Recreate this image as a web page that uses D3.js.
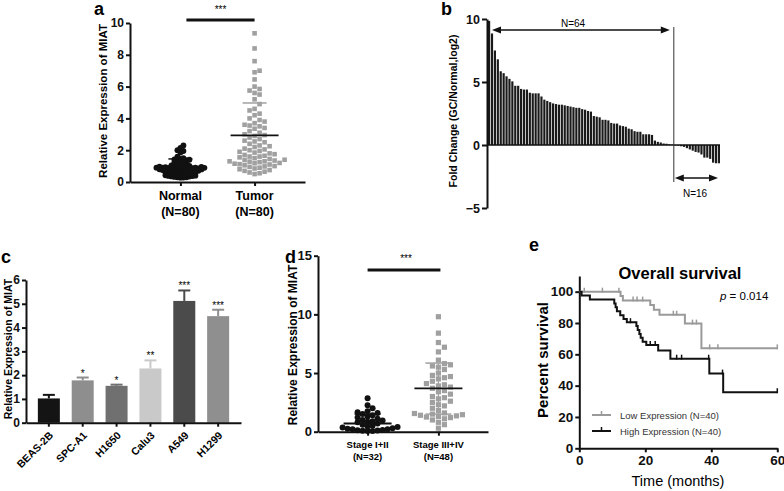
<!DOCTYPE html>
<html>
<head>
<meta charset="utf-8">
<script src="https://cdn.jsdelivr.net/npm/d3@7"></script>
<style>
  body { margin: 0; background: #fff; }
  svg { font-family: "Liberation Sans", Arial, sans-serif; }
</style>
</head>
<body>
<svg id="fig" width="784" height="491"></svg>
<script>
// ---- panel a: MIAT in tissues ----
const groupsA = ["Normal", "Tumor"];
const groupNA = ["(N=80)", "(N=80)"];
const normalVals = [2.3, 2.15, 2.0, 1.95, 1.85, 1.6, 1.5, 1.45, 1.42, 1.4,
  1.38, 1.35, 1.3, 1.28, 1.25, 1.2, 1.15, 1.12, 1.1, 1.05,
  1.02, 1.0, 0.98, 0.97, 0.96, 0.95, 0.94, 0.93, 0.92, 0.91,
  0.9, 0.9, 0.89, 0.88, 0.87, 0.86, 0.85, 0.84, 0.83, 0.82,
  0.8, 0.8, 0.79, 0.78, 0.77, 0.76, 0.75, 0.74, 0.72, 0.71,
  0.7, 0.69, 0.68, 0.66, 0.65, 0.64, 0.62, 0.6, 0.6, 0.58,
  0.56, 0.55, 0.53, 0.52, 0.5, 0.48, 0.47, 0.45, 0.44, 0.42,
  0.4, 0.38, 0.37, 0.35, 0.34, 0.32, 0.3, 0.3, 0.28, 0.27];
const tumorVals = [9.35, 8.4, 7.6, 7.0, 6.9, 6.45, 6.0, 5.85, 5.75, 5.6,
  5.5, 5.2, 4.9, 4.6, 4.5, 4.3, 4.2, 4.0, 3.9, 3.8,
  3.7, 3.6, 3.55, 3.5, 3.4, 3.35, 3.2, 3.1, 3.0, 2.95,
  2.9, 2.8, 2.7, 2.6, 2.55, 2.5, 2.4, 2.3, 2.25, 2.2,
  2.1, 2.05, 2.0, 1.95, 1.9, 1.85, 1.8, 1.75, 1.7, 1.65,
  1.6, 1.55, 1.5, 1.45, 1.4, 1.38, 1.35, 1.3, 1.28, 1.25,
  1.2, 1.18, 1.15, 1.12, 1.1, 1.05, 1.0, 0.98, 0.95, 0.9,
  0.85, 0.8, 0.75, 0.7, 0.65, 0.6, 0.55, 0.5, 1.3, 1.6];
const meanA = [0.95, 2.93];
const sdTopA = [1.45, 4.97];

// ---- panel b: fold change per patient ----
const foldUp = [9.85, 8.85, 7.5, 6.8, 5.85, 5.7, 5.45, 5.25, 5.05, 4.7,
  4.7, 4.45, 4.4, 4.4, 4.15, 4.1, 4.1, 4.1, 3.85, 3.6,
  3.5, 3.4, 3.3, 3.25, 3.2, 3.2, 3.15, 3.1, 3.05, 3.0,
  2.95, 2.95, 2.85, 2.8, 2.7, 2.65, 2.3, 2.25, 2.2, 2.0,
  2.0, 1.95, 1.75, 1.7, 1.7, 1.55, 1.5, 1.45, 1.3, 1.25,
  1.1, 1.05, 1.05, 0.85, 0.85, 0.85, 0.8, 0.35, 0.25, 0.2,
  0.12, 0.1, 0.05, 0.03];
const foldDown = [-0.03, -0.05, -0.1, -0.15, -0.25, -0.35, -0.45, -0.55,
  -0.6, -0.75, -1.0, -1.0, -1.1, -1.4, -1.45, -1.45];

// ---- panel c: cell lines ----
const cellLines = ["BEAS-2B", "SPC-A1", "H1650", "Calu3", "A549", "H1299"];
const cellMeans = [1.02, 1.78, 1.55, 2.28, 5.12, 4.48];
const cellErrTop = [1.17, 1.9, 1.6, 2.62, 5.56, 4.75];
const cellStars = ["", "*", "*", "**", "***", "***"];
const cellColors = ["#141414", "#8e8e8e", "#707070", "#c9c9c9", "#4b4b4b", "#8f8f8f"];

// ---- panel d: stages ----
const stages = ["Stage I+II", "Stage III+IV"];
const stageN = ["(N=32)", "(N=48)"];
const earlyVals = [2.85, 2.25, 2.0, 1.75, 1.65, 1.6, 1.5, 1.4, 1.3, 1.2,
  1.1, 1.0, 0.95, 0.9, 0.85, 0.8, 0.7, 0.6, 0.5, 0.45,
  0.4, 0.35, 0.3, 0.25, 0.2, 0.2, 0.15, 0.12, 0.1, 0.08, 0.05, 0.05];
const lateVals = [9.8, 8.4, 7.6, 7.2, 6.8, 6.1, 5.8, 5.7, 5.6, 5.5,
  5.3, 5.0, 4.8, 4.7, 4.6, 4.5, 4.3, 4.1, 4.0, 3.9,
  3.8, 3.7, 3.5, 3.4, 3.2, 3.0, 2.9, 2.8, 2.6, 2.5,
  2.3, 2.2, 2.0, 1.8, 1.6, 1.55, 1.5, 1.45, 1.4, 1.35,
  1.3, 1.25, 1.2, 1.1, 1.0, 0.8, 0.6, 0.3];
const meanD = [0.7, 3.7];
const sdTopD = [1.5, 5.85];
const sdLowD = [null, 1.5];

// ---- panel e: Kaplan-Meier ----
const lowTimes = [0, 12.5, 13.2, 21.5, 22.6, 24.3, 32, 37];
const lowSurv = [100, 97.3, 94.3, 91.5, 88.5, 85.3, 79.6, 63.8];
const lowCensor = [1.5, 7, 12, 16.3, 17.5, 19.2, 28.5, 29.5, 34.3, 35.5, 39.5, 42, 60];
const highTimes = [0, 0.7, 3.2, 10.6, 11, 11.4, 12.4, 13.4, 14.4, 17.3, 17.7, 18.2, 18.6, 19.2, 20.3, 23.9, 27.6, 39.4, 43.6];
const highSurv = [100, 97.5, 95, 92.5, 90, 87.5, 85, 82.5, 80.5, 78, 75.5, 73, 70.5, 68, 66, 62.5, 57.2, 47.7, 35.8];
const highCensor = [15.5, 21.5, 23, 29.5, 31, 39.2, 43.4, 60];

const BLACK = "#111", GRAY = "#a0a0a0";
const svg = d3.select("#fig");

function styleAxis(g, size) {
  g.selectAll("path, line").attr("stroke", BLACK).attr("stroke-width", 2);
  g.selectAll("text").attr("fill", BLACK)
    .style("font-size", size + "px").style("font-weight", "bold");
}

// simple beeswarm: push each point sideways until it does not collide
function swarm(values, y, cx, d) {
  const pts = values.map(v => ({ v, y: y(v) })).sort((a, b) => a.v - b.v);
  const placed = [];
  pts.forEach(p => {
    for (let k = 0; k < 400; k++) {
      const dx = (k % 2 ? 1 : -1) * Math.ceil(k / 2);
      const x = cx + dx;
      if (!placed.some(q => Math.abs(q.x - x) < d && Math.abs(q.y - p.y) < d)) {
        p.x = x; placed.push(p); break;
      }
    }
  });
  return placed;
}

function panelLabel(t, x, y) {
  svg.append("text").attr("x", x).attr("y", y)
    .style("font-size", "18px").style("font-weight", "bold").text(t);
}

function yLabel(t, x, y, size) {
  svg.append("text")
    .attr("transform", `translate(${x},${y}) rotate(-90)`)
    .attr("text-anchor", "middle")
    .style("font-size", size + "px").style("font-weight", "bold")
    .text(t);
}

// ================= panel a =================
const ya = d3.scaleLinear().domain([0, 10]).range([182, 23]);
const xa = d3.scalePoint().domain(groupsA).range([130, 305]).padding(0.68);

svg.append("g").attr("transform", "translate(130,0)")
  .call(d3.axisLeft(ya).ticks(5).tickSize(4).tickSizeOuter(0).tickPadding(2))
  .call(g => styleAxis(g, 12));
svg.append("g").attr("transform", "translate(0,182)")
  .call(d3.axisBottom(xa).tickSize(4).tickSizeOuter(0).tickFormat(""))
  .call(g => styleAxis(g, 12));

groupsA.forEach((gname, i) => {
  svg.append("text").attr("x", xa(gname)).attr("y", 200).attr("text-anchor", "middle")
    .style("font-size", "12.5px").style("font-weight", "bold").text(gname);
  svg.append("text").attr("x", xa(gname)).attr("y", 216).attr("text-anchor", "middle")
    .style("font-size", "12.5px").style("font-weight", "bold").text(groupNA[i]);
});

svg.selectAll(".ptN").data(swarm(normalVals, ya, xa("Normal"), 2.4)).enter()
  .append("circle").attr("cx", d => d.x).attr("cy", d => d.y).attr("r", 2.9).attr("fill", BLACK);
svg.selectAll(".ptT").data(swarm(tumorVals, ya, xa("Tumor"), 5)).enter()
  .append("rect").attr("x", d => d.x - 2.3).attr("y", d => d.y - 2.3)
  .attr("width", 4.6).attr("height", 4.6).attr("fill", GRAY);

groupsA.forEach((gname, i) => {
  const cx = xa(gname);
  svg.append("line").attr("x1", cx - 12).attr("x2", cx + 12)
    .attr("y1", ya(sdTopA[i])).attr("y2", ya(sdTopA[i]))
    .attr("stroke", i ? GRAY : BLACK).attr("stroke-width", 1.5);
  svg.append("line").attr("x1", cx - 24).attr("x2", cx + 24)
    .attr("y1", ya(meanA[i])).attr("y2", ya(meanA[i]))
    .attr("stroke", BLACK).attr("stroke-width", 1.8);
});

svg.append("line").attr("x1", xa("Normal") + 6).attr("x2", xa("Tumor"))
  .attr("y1", 20).attr("y2", 20).attr("stroke", BLACK).attr("stroke-width", 3);
svg.append("text").attr("x", (xa("Normal") + xa("Tumor")) / 2 + 3).attr("y", 13)
  .attr("text-anchor", "middle").style("font-size", "10px").text("***");

yLabel("Relative Expression of MIAT", 107, 101, 11.5);
panelLabel("a", 94, 15);

// ================= panel b =================
const foldAll = foldUp.concat(foldDown);
const yb = d3.scaleLinear().domain([-5, 10]).range([208, 19]);
const xb = d3.scaleBand().domain(d3.range(foldAll.length)).range([488, 720]).paddingInner(0.25);

svg.selectAll(".barB").data(foldAll).enter().append("rect")
  .attr("x", (d, i) => xb(i)).attr("width", xb.bandwidth())
  .attr("y", d => Math.min(yb(d), yb(0)))
  .attr("height", d => Math.abs(yb(d) - yb(0)))
  .attr("fill", "#1a1a1a");

svg.append("line").attr("x1", 487).attr("x2", 720).attr("y1", yb(0)).attr("y2", yb(0))
  .attr("stroke", BLACK).attr("stroke-width", 1.5);
svg.append("g").attr("transform", "translate(487,0)")
  .call(d3.axisLeft(yb).tickValues([-5, 0, 5, 10]).tickSize(5).tickSizeOuter(0).tickPadding(2))
  .call(g => styleAxis(g, 12.5));

const divX = xb(foldUp.length) - xb.step() * 0.125;
svg.append("line").attr("x1", divX).attr("x2", divX).attr("y1", 27).attr("y2", 182)
  .attr("stroke", "#333").attr("stroke-width", 1);

function arrow(x1, x2, y) {
  svg.append("line").attr("x1", x1 + 5).attr("x2", x2 - 5).attr("y1", y).attr("y2", y)
    .attr("stroke", BLACK).attr("stroke-width", 1.3);
  svg.append("path").attr("d", `M${x1},${y}L${x1 + 9},${y - 3.5}L${x1 + 9},${y + 3.5}Z`).attr("fill", BLACK);
  svg.append("path").attr("d", `M${x2},${y}L${x2 - 9},${y - 3.5}L${x2 - 9},${y + 3.5}Z`).attr("fill", BLACK);
}
arrow(xb(0) + 4, divX - 4, 30);
arrow(divX + 1, xb(foldAll.length - 1) + xb.bandwidth() - 2, 178);
svg.append("text").attr("x", 573).attr("y", 27).attr("text-anchor", "middle")
  .style("font-size", "10px").text("N=64");
svg.append("text").attr("x", 695).attr("y", 197).attr("text-anchor", "middle")
  .style("font-size", "10px").text("N=16");

yLabel("Fold Change (GC/Normal,log2)", 457, 111, 10.5);
panelLabel("b", 441, 15);

// ================= panel c =================
const yc = d3.scaleLinear().domain([0, 6]).range([422.7, 280]);
const xc = d3.scaleBand().domain(cellLines).range([26, 241]).paddingInner(0.35).paddingOuter(0.35);

cellLines.forEach((c, i) => {
  const cx = xc(c) + xc.bandwidth() / 2;
  svg.append("line").attr("x1", cx).attr("x2", cx)
    .attr("y1", yc(cellMeans[i])).attr("y2", yc(cellErrTop[i]))
    .attr("stroke", cellColors[i]).attr("stroke-width", 2);
  svg.append("line").attr("x1", cx - 6).attr("x2", cx + 6)
    .attr("y1", yc(cellErrTop[i])).attr("y2", yc(cellErrTop[i]))
    .attr("stroke", cellColors[i]).attr("stroke-width", 2);
  svg.append("text").attr("x", cx).attr("y", yc(cellErrTop[i]) - 1)
    .attr("text-anchor", "middle").style("font-size", "10px").text(cellStars[i]);
  // 45 degree category label ending just under the tick
  svg.append("text")
    .attr("transform", `translate(${cx + 5},${436}) rotate(-45)`)
    .attr("text-anchor", "end")
    .style("font-size", "10.5px").style("font-weight", "bold")
    .text(c);
});
svg.selectAll(".barC").data(cellLines).enter().append("rect")
  .attr("x", d => xc(d)).attr("width", xc.bandwidth())
  .attr("y", (d, i) => yc(cellMeans[i]))
  .attr("height", (d, i) => yc(0) - yc(cellMeans[i]))
  .attr("fill", (d, i) => cellColors[i]);

svg.append("g").attr("transform", "translate(26,0)")
  .call(d3.axisLeft(yc).ticks(6).tickSize(4).tickSizeOuter(0).tickPadding(2))
  .call(g => styleAxis(g, 12));
svg.append("g").attr("transform", "translate(0,422.7)")
  .call(d3.axisBottom(xc).tickSize(4).tickSizeOuter(0).tickFormat(""))
  .call(g => styleAxis(g, 10.5));

yLabel("Relative Expression of MIAT", 12, 349, 10.5);
panelLabel("c", 1, 263);

// ================= panel d =================
const yd = d3.scaleLinear().domain([0, 15]).range([431.7, 255.7]);
const xd = d3.scalePoint().domain(stages).range([318, 488]).padding(0.7);

svg.append("g").attr("transform", "translate(318,0)")
  .call(d3.axisLeft(yd).tickValues([0, 5, 10, 15]).tickSize(4).tickSizeOuter(0).tickPadding(2))
  .call(g => styleAxis(g, 13));
svg.append("g").attr("transform", "translate(0,431.7)")
  .call(d3.axisBottom(xd).tickSize(4).tickSizeOuter(0).tickFormat(""))
  .call(g => styleAxis(g, 12));

stages.forEach((s, i) => {
  svg.append("text").attr("x", xd(s)).attr("y", 448).attr("text-anchor", "middle")
    .style("font-size", "9.5px").style("font-weight", "bold").text(s);
  svg.append("text").attr("x", xd(s)).attr("y", 460).attr("text-anchor", "middle")
    .style("font-size", "9.5px").style("font-weight", "bold").text(stageN[i]);
});

svg.selectAll(".ptE").data(swarm(earlyVals, yd, xd(stages[0]), 4.2)).enter()
  .append("circle").attr("cx", d => d.x).attr("cy", d => d.y).attr("r", 3).attr("fill", BLACK);
svg.selectAll(".ptL").data(swarm(lateVals, yd, xd(stages[1]), 5.8)).enter()
  .append("rect").attr("x", d => d.x - 2.6).attr("y", d => d.y - 2.6)
  .attr("width", 5.2).attr("height", 5.2).attr("fill", GRAY);

stages.forEach((s, i) => {
  const cx = xd(s);
  const c = i ? GRAY : BLACK;
  [sdTopD[i], sdLowD[i]].filter(v => v !== null).forEach(v => {
    svg.append("line").attr("x1", cx - 13).attr("x2", cx + 13)
      .attr("y1", yd(v)).attr("y2", yd(v)).attr("stroke", c).attr("stroke-width", 1.5);
  });
  svg.append("line").attr("x1", cx).attr("x2", cx)
    .attr("y1", yd(sdTopD[i])).attr("y2", yd(sdLowD[i] === null ? 0 : sdLowD[i]))
    .attr("stroke", c).attr("stroke-width", 1.2);
  svg.append("line").attr("x1", cx - 24).attr("x2", cx + 24)
    .attr("y1", yd(meanD[i])).attr("y2", yd(meanD[i]))
    .attr("stroke", BLACK).attr("stroke-width", 1.8);
});

svg.append("line").attr("x1", xd(stages[0])).attr("x2", xd(stages[1]) + 2)
  .attr("y1", 270).attr("y2", 270).attr("stroke", BLACK).attr("stroke-width", 3);
svg.append("text").attr("x", 406).attr("y", 262).attr("text-anchor", "middle")
  .style("font-size", "10px").text("***");

yLabel("Relative Expression of MIAT", 297, 345, 12);
panelLabel("d", 285, 263);

// ================= panel e =================
const xe = d3.scaleLinear().domain([0, 60]).range([579.3, 777.3]);
const ye = d3.scaleLinear().domain([0, 110]).range([448.3, 276]);

svg.append("g").attr("transform", "translate(579.3,0)")
  .call(d3.axisLeft(ye).tickValues([0, 20, 40, 60, 80, 100]).tickSize(4).tickSizeOuter(0).tickPadding(2))
  .call(g => styleAxis(g, 13.5));
svg.append("g").attr("transform", "translate(0,448.3)")
  .call(d3.axisBottom(xe).tickValues([0, 20, 40, 60]).tickSize(4).tickSizeOuter(0).tickPadding(3))
  .call(g => styleAxis(g, 13.5));

function survAt(times, surv, t) {
  let s = surv[0];
  times.forEach((tt, i) => { if (tt <= t) s = surv[i]; });
  return s;
}
function kmCurve(times, surv, censor, color) {
  const pts = times.map((t, i) => [t, surv[i]]).concat([[60, surv[surv.length - 1]]]);
  svg.append("path").datum(pts)
    .attr("d", d3.line().x(d => xe(d[0])).y(d => ye(d[1])).curve(d3.curveStepAfter))
    .attr("fill", "none").attr("stroke", color).attr("stroke-width", 2);
  svg.selectAll(null).data(censor).enter().append("line")
    .attr("x1", d => xe(d)).attr("x2", d => xe(d))
    .attr("y1", d => ye(survAt(times, surv, d)) - 4)
    .attr("y2", d => ye(survAt(times, surv, d)) + 1)
    .attr("stroke", color).attr("stroke-width", 1.5);
}
kmCurve(lowTimes, lowSurv, lowCensor, "#9a9a9a");
kmCurve(highTimes, highSurv, highCensor, BLACK);

const legend = [["Low Expression (N=40)", "#9a9a9a", 415], ["High Expression (N=40)", BLACK, 431]];
legend.forEach(([t, c, y]) => {
  svg.append("line").attr("x1", 592).attr("x2", 611).attr("y1", y).attr("y2", y)
    .attr("stroke", c).attr("stroke-width", 2);
  svg.append("line").attr("x1", 601.5).attr("x2", 601.5).attr("y1", y - 4).attr("y2", y + 1)
    .attr("stroke", c).attr("stroke-width", 1.5);
  svg.append("text").attr("x", 620).attr("y", y + 3.5)
    .style("font-size", "9.5px").attr("fill", "#333").text(t);
});

svg.append("text").attr("x", 680).attr("y", 279).attr("text-anchor", "middle")
  .style("font-size", "16.5px").style("font-weight", "bold").text("Overall survival");
const pText = svg.append("text").attr("x", 720).attr("y", 300).style("font-size", "11.5px");
pText.append("tspan").style("font-style", "italic").text("p");
pText.append("tspan").text(" = 0.014");

svg.append("text").attr("x", 678).attr("y", 486).attr("text-anchor", "middle")
  .style("font-size", "14.5px").text("Time (months)");
yLabel("Percent survival", 548, 360, 15);
panelLabel("e", 529, 251);
</script>
</body>
</html>
